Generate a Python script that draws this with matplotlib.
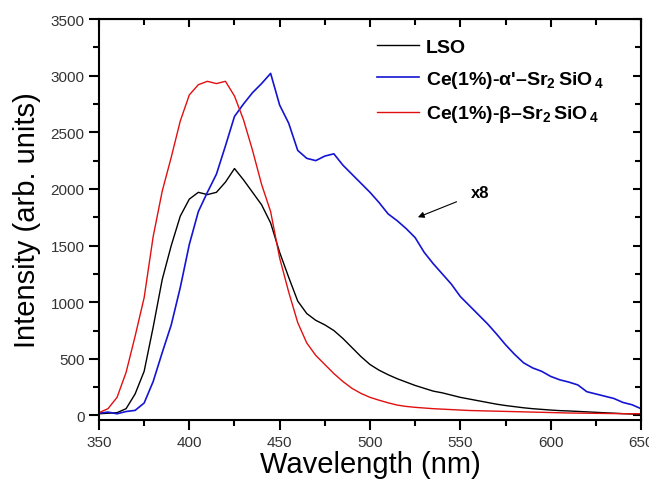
import numpy as np
from matplotlib import pyplot as plt
from matplotlib.ticker import MultipleLocator

plt.rcParams['font.family'] = ['Liberation Sans', 'DejaVu Sans']
plt.rcParams['mathtext.fontset'] = 'custom'
plt.rcParams['mathtext.rm'] = 'Liberation Sans:bold'
plt.rcParams['mathtext.bf'] = 'Liberation Sans:bold'

wavelength = np.arange(350, 651, 5)

lso = [15, 20, 25, 60, 190, 390, 780, 1200, 1500, 1760,
       1910, 1970, 1950, 1970, 2060, 2180, 2080, 1970, 1860, 1700,
       1440, 1220, 1010, 900, 840, 800, 750, 680, 600, 520,
       450, 400, 360, 325, 295, 265, 240, 215, 200, 180,
       160, 145, 130, 115, 100, 88, 78, 68, 60, 54,
       48, 43, 40, 36, 32, 28, 24, 20, 16, 13, 10]

alpha_sr = [20, 30, 15, 35, 45, 110, 300, 555, 800, 1130,
            1510, 1800, 1970, 2130, 2380, 2640, 2750, 2850, 2930, 3020,
            2740, 2580, 2340, 2270, 2250, 2290, 2310, 2210, 2130, 2050,
            1970, 1880, 1780, 1720, 1650, 1570, 1440, 1340, 1250, 1160,
            1050, 970, 890, 810, 720, 625, 540, 465, 420, 390,
            345, 315, 295, 270, 210, 190, 170, 150, 115, 95, 60]

beta_sr = [25, 60, 160, 380, 700, 1040, 1580, 1980, 2280, 2600,
           2830, 2920, 2950, 2930, 2950, 2820, 2610, 2340, 2040, 1800,
           1390, 1090, 820, 640, 530, 450, 370, 300, 240, 195,
           160, 135, 112, 92, 80, 72, 66, 60, 56, 52,
           48, 44, 42, 40, 38, 36, 34, 32, 30, 28,
           26, 24, 22, 21, 20, 19, 18, 17, 16, 15, 15]

fig = plt.figure(figsize=(6.49, 4.81), dpi=100)
ax = fig.add_axes([0.1525, 0.1247, 0.8352, 0.8337])

ax.plot(wavelength, lso, color='black', lw=1.0, label='LSO')
ax.plot(wavelength, alpha_sr, color='#1414d2', lw=1.2,
        label="Ce(1%)-α'–Sr$_2\\,$SiO$_{\\,4}$")
ax.plot(wavelength, beta_sr, color='#e01010', lw=1.0,
        label="Ce(1%)-β–Sr$_2\\,$SiO$_{\\,4}$")

ax.set_xlim(350, 650)
ax.set_ylim(-40, 3500)
ax.xaxis.set_major_locator(MultipleLocator(50))
ax.xaxis.set_minor_locator(MultipleLocator(25))
ax.yaxis.set_major_locator(MultipleLocator(500))
ax.yaxis.set_minor_locator(MultipleLocator(250))

for s in ax.spines.values():
    s.set_linewidth(1.5)
ax.tick_params(which='major', direction='out', length=7, width=1.5,
               labelsize=11, labelcolor='#333333')
ax.tick_params(which='minor', direction='out', length=4.5, width=1.5)

top = ax.secondary_xaxis('top')
top.xaxis.set_major_locator(MultipleLocator(50))
top.xaxis.set_minor_locator(MultipleLocator(25))
top.tick_params(which='major', direction='in', length=6, width=1.5, labeltop=False)
top.tick_params(which='minor', direction='in', length=4, width=1.5)
right = ax.secondary_yaxis('right')
right.yaxis.set_major_locator(MultipleLocator(500))
right.yaxis.set_minor_locator(MultipleLocator(250))
right.tick_params(which='major', direction='in', length=6, width=1.5, labelright=False)
right.tick_params(which='minor', direction='in', length=4, width=1.5)

ax.set_xlabel('Wavelength (nm)', fontsize=21, labelpad=1)
ax.set_ylabel('Intensity (arb. units)', fontsize=21, labelpad=7)

ax.annotate('x8', xy=(526.5, 1750), xytext=(561, 1970),
            fontsize=12, fontweight='bold', ha='center', va='center',
            arrowprops=dict(arrowstyle='-|>', color='black', lw=0.8,
                            shrinkA=9, shrinkB=0, mutation_scale=9))

leg = ax.legend(loc='upper left', bbox_to_anchor=(0.513, 0.952), frameon=False,
                handlelength=2.16, handletextpad=0.36, labelspacing=0.68,
                borderpad=0, borderaxespad=0, prop={'size': 14, 'weight': 'bold'})

fig.savefig('out.png', dpi=100)
